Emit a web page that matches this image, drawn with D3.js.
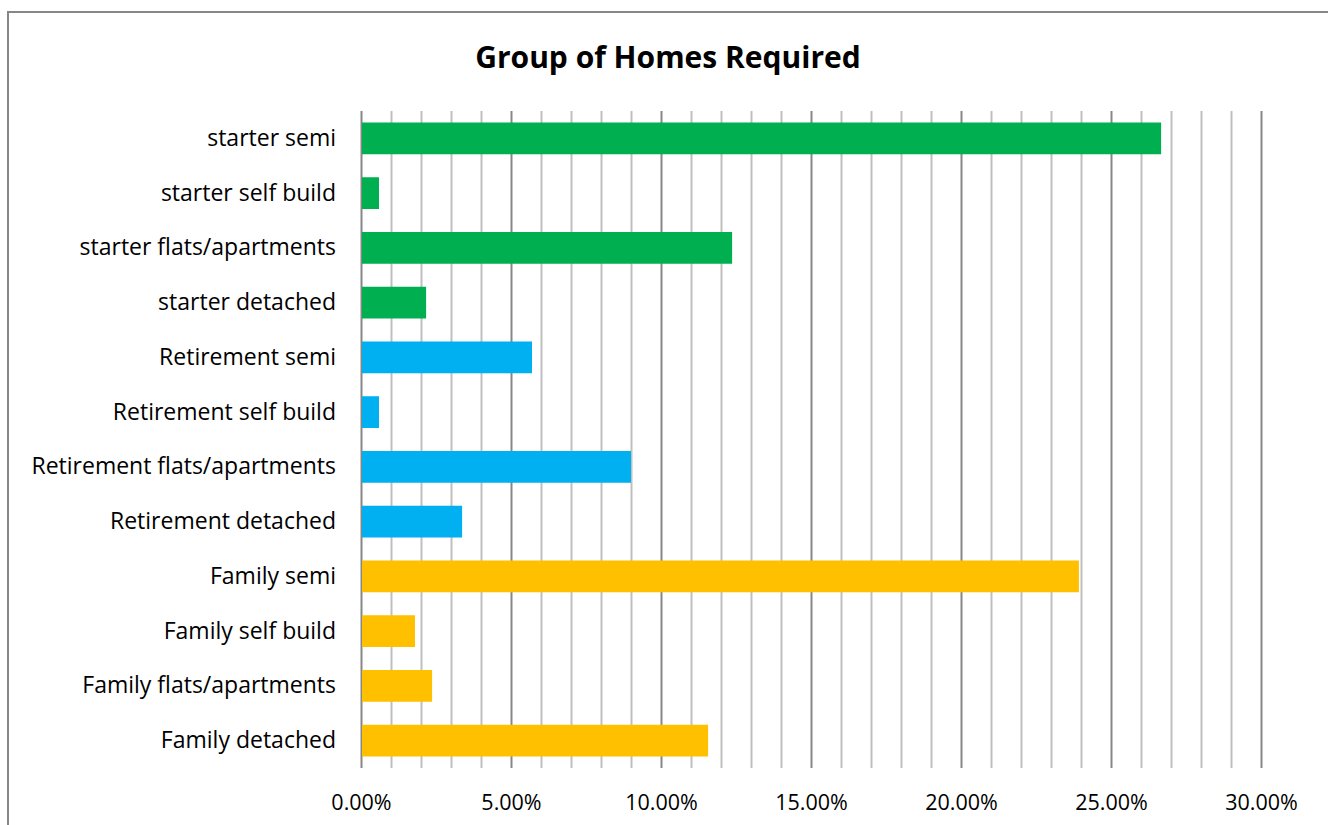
<!DOCTYPE html>
<html>
<head>
<meta charset="utf-8">
<script src="https://cdn.jsdelivr.net/npm/d3@7"></script>
<style>
  body { margin: 0; background: #fff; }
  svg { display: block; }
  text { font-family: "Open Sans", "Noto Sans", sans-serif; fill: #000; }
</style>
</head>
<body>
<div id="chart"></div>
<script>
// categories top to bottom
var categories = [
  "starter semi", "starter self build", "starter flats/apartments", "starter detached",
  "Retirement semi", "Retirement self build", "Retirement flats/apartments", "Retirement detached",
  "Family semi", "Family self build", "Family flats/apartments", "Family detached"
];
var groups = ["starter", "starter", "starter", "starter",
  "Retirement", "Retirement", "Retirement", "Retirement",
  "Family", "Family", "Family", "Family"];
var values = [26.67, 0.6, 12.37, 2.17, 5.7, 0.6, 9.0, 3.37, 23.93, 1.8, 2.37, 11.57];
var groupNames = ["starter", "Retirement", "Family"];
var groupColors = ["#00b050", "#00b0f0", "#ffc000"];
var majorTicks = [0, 5, 10, 15, 20, 25, 30];
var minorTicks = d3.range(0, 31, 1);

var W = 1328, H = 825;
var margin = {top: 111, right: 67, bottom: 57, left: 361};

var svg = d3.select("#chart").append("svg")
  .attr("width", W).attr("height", H);

// chart frame
svg.append("rect")
  .attr("x", 8).attr("y", 12)
  .attr("width", W + 20).attr("height", H + 20)
  .attr("fill", "none").attr("stroke", "#878787").attr("stroke-width", 2);

svg.append("text")
  .attr("x", 668).attr("y", 68)
  .attr("text-anchor", "middle")
  .style("font-size", "30px").style("font-weight", "bold")
  .text("Group of Homes Required");

var x = d3.scaleLinear().domain([0, 30]).range([margin.left, W - margin.right]);
var y = d3.scaleBand().domain(categories).range([margin.top, H - margin.bottom]).paddingInner(0.42).paddingOuter(0.21);
var color = d3.scaleOrdinal().domain(groupNames).range(groupColors);

var g = svg.append("g");
var plotH = H - margin.top - margin.bottom;

// minor gridlines
g.append("g").attr("class", "grid-minor")
  .attr("transform", "translate(0," + (H - margin.bottom) + ")")
  .call(d3.axisBottom(x).tickValues(minorTicks.filter(function(d) { return d % 5 !== 0; }))
    .tickSize(-plotH).tickSizeOuter(0).tickFormat(""))
  .call(function(a) { a.select(".domain").remove(); })
  .selectAll("line").attr("stroke", "#bfbfbf").attr("stroke-width", 2);

// major gridlines
g.append("g").attr("class", "grid-major")
  .attr("transform", "translate(0," + (H - margin.bottom) + ")")
  .call(d3.axisBottom(x).tickValues(majorTicks)
    .tickSize(-plotH).tickSizeOuter(0).tickFormat(""))
  .call(function(a) { a.select(".domain").remove(); })
  .selectAll("line").attr("stroke", "#878787").attr("stroke-width", 2);

// bars
g.selectAll(".bar")
  .data(values)
  .enter().append("rect")
  .attr("class", "bar")
  .attr("x", x(0) + 1)
  .attr("y", function(d, i) { return y(categories[i]); })
  .attr("width", function(d) { return x(d) - x(0) - 1; })
  .attr("height", y.bandwidth())
  .attr("fill", function(d, i) { return color(groups[i]); });

// x tick labels
var xAxis = g.append("g")
  .attr("transform", "translate(0," + (H - margin.bottom) + ")")
  .call(d3.axisBottom(x).tickValues(majorTicks).tickSize(0).tickPadding(27)
    .tickFormat(function(d) { return d.toFixed(2) + "%"; }));
xAxis.select(".domain").remove();
xAxis.selectAll("text").style("font-size", "21.5px").style("font-family", "'Open Sans', 'Noto Sans', sans-serif").attr("fill", "#000");

// y category labels
var yAxis = g.append("g")
  .attr("transform", "translate(" + x(0) + ",0)")
  .call(d3.axisLeft(y).tickSize(0).tickPadding(25));
yAxis.select(".domain").remove();
yAxis.selectAll("text").style("font-size", "23px").style("font-family", "'Open Sans', 'Noto Sans', sans-serif").attr("fill", "#000");
</script>
</body>
</html>
